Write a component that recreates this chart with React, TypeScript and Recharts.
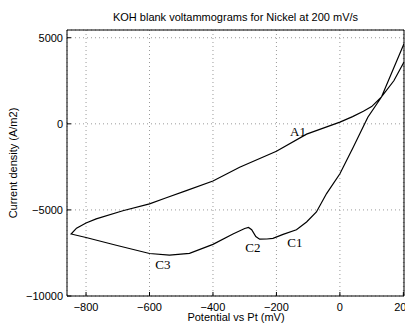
import { LineChart, Line, XAxis, YAxis, CartesianGrid, ReferenceDot } from "recharts";

// cyclic voltammogram, traced from the upper-right end of the anodic branch,
// round the left vertex and back along the cathodic branch
const potential = [
  202, 170, 131, 100, 74, 40, 0, -105, -200, -316, -400, -484, -547, -600, -684, -768, -800, -830, -847,
  -800, -705, -600, -537, -474, -400, -337, -300, -288, -278, -265, -253, -230, -211, -179, -137, -105, -74, -42,
  0, 42, 88, 131, 202,
];
const current = [
  3590, 2500, 1560, 1000, 730, 420, 100, -600, -1590, -2520, -3320, -3880, -4290, -4650, -5050, -5520, -5760, -6060, -6400,
  -6600, -7050, -7530, -7630, -7520, -7000, -6400, -6080, -6020, -6150, -6550, -6700, -6690, -6650, -6420, -6150, -5700, -5120, -4050,
  -2900, -1360, 380, 1560, 4650,
];

const xTicks = [-800, -600, -400, -200, 0, 200];
const yTicks = [-10000, -5000, 0, 5000];

const peakNames = ["A1", "C1", "C2", "C3"];
const peakPotential = [-132, -142, -274, -558];
const peakCurrent = [-430, -6910, -7150, -8190];

const data = potential.map((p, i) => ({ potential: p, current: current[i] }));

const sans = "'Liberation Sans', Arial, sans-serif";
const tickStyle = { fontFamily: sans, fontSize: 11, fill: "#000" };
const minus = (v: number) => String(v).replace("-", "\u2212");

export default function App() {
  return (
    <div style={{ position: "absolute", left: 0, top: 0, width: 405, height: 323, background: "#fff" }}>
      <div
        style={{
          position: "absolute",
          left: 67,
          width: 337,
          top: 11,
          textAlign: "center",
          fontFamily: sans,
          fontSize: 11,
          lineHeight: "13px",
        }}
      >
        KOH blank voltammograms for Nickel at 200 mV/s
      </div>
      <LineChart width={405} height={323} data={data} margin={{ top: 29, right: 0, bottom: 0, left: 0 }}>
        <CartesianGrid stroke="#9a9a9a" strokeDasharray="1 3" />
        <XAxis
          dataKey="potential"
          type="number"
          domain={[-860, 202]}
          allowDataOverflow
          ticks={xTicks}
          interval={0}
          height={27}
          tick={tickStyle}
          tickFormatter={minus}
          tickSize={-4}
          tickMargin={11}
          stroke="#000"
          label={{
            content: () => (
              <text x={236} y={321} textAnchor="middle" fontFamily={sans} fontSize={11} fill="#000">
                Potential vs Pt (mV)
              </text>
            ),
          }}
        />
        <XAxis
          xAxisId="top"
          orientation="top"
          dataKey="potential"
          type="number"
          domain={[-860, 202]}
          allowDataOverflow
          ticks={xTicks}
          interval={0}
          height={1}
          tick={false}
          tickSize={-4}
          stroke="#000"
        />
        <YAxis
          dataKey="current"
          type="number"
          domain={[-10000, 5450]}
          allowDataOverflow
          ticks={yTicks}
          interval={0}
          width={67}
          tick={tickStyle}
          tickFormatter={minus}
          tickSize={-4}
          tickMargin={8}
          stroke="#000"
          label={{
            content: () => (
              <text
                x={13}
                y={163}
                transform="rotate(-90 13 163)"
                textAnchor="middle"
                dominantBaseline="central"
                fontFamily={sans}
                fontSize={11}
                fill="#000"
              >
                Current density (A/m2)
              </text>
            ),
          }}
        />
        <YAxis
          yAxisId="right"
          orientation="right"
          type="number"
          domain={[-10000, 5450]}
          allowDataOverflow
          ticks={yTicks}
          interval={0}
          width={1}
          tick={false}
          tickSize={-4}
          stroke="#000"
        />
        <Line
          dataKey="current"
          type="linear"
          stroke="#000"
          strokeWidth={1.2}
          dot={false}
          activeDot={false}
          isAnimationActive={false}
        />
        {peakNames.map((name, i) => (
          <ReferenceDot
            key={name}
            x={peakPotential[i]}
            y={peakCurrent[i]}
            r={0}
            fill="none"
            stroke="none"
            label={{
              value: name,
              position: "center",
              fontFamily: "'Liberation Serif', 'Times New Roman', serif",
              fontSize: 13,
              fill: "#000",
            }}
          />
        ))}
      </LineChart>
    </div>
  );
}
